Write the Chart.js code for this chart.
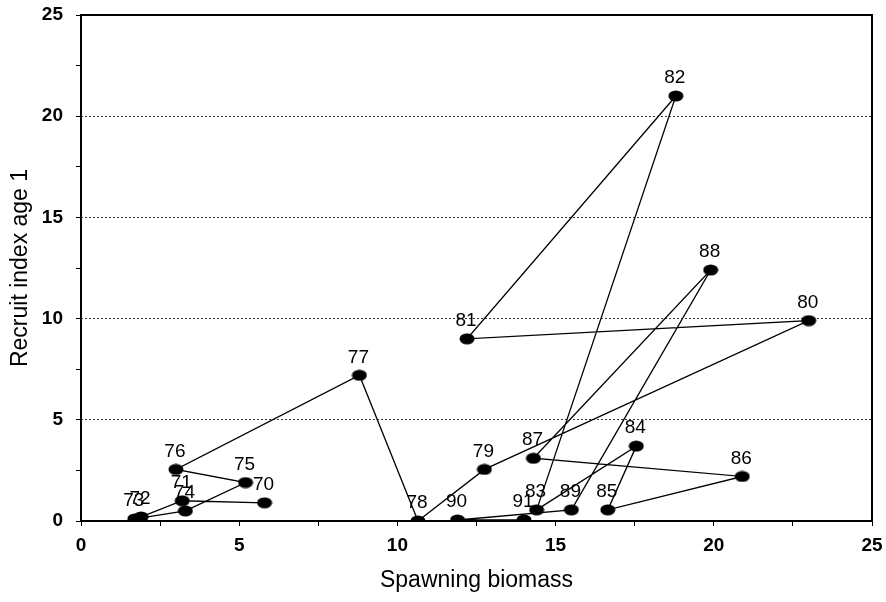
<!DOCTYPE html>
<html>
<head>
<meta charset="utf-8">
<script src="https://cdn.jsdelivr.net/npm/chart.js@4/dist/chart.umd.min.js"></script>
<style>
  html, body { margin: 0; padding: 0; background: #fff; }
  #wrap { position: relative; width: 886px; height: 602px; }
</style>
</head>
<body>
<div id="wrap"><canvas id="c"></canvas></div>
<script>
// years, in the order the path joins them
const years = ['70','71','72','73','74','75','76','77','78','79','80','81','82','83','84','85','86','87','88','89','90','91'];
const biomass = [5.8, 3.2, 1.9, 1.7, 3.3, 5.2, 3.0, 8.8, 10.65, 12.75, 23.0, 12.2, 18.8, 14.4, 17.55, 16.65, 20.9, 14.3, 19.9, 15.5, 11.9, 14.0];
const recruits = [0.9, 1.0, 0.2, 0.1, 0.5, 1.9, 2.55, 7.2, 0.0, 2.55, 9.9, 9.0, 21.0, 0.55, 3.7, 0.55, 2.2, 3.1, 12.4, 0.55, 0.05, 0.05];
const axisTicks = [0, 5, 10, 15, 20, 25];
const tickSteps = [0, 2.5, 5, 7.5, 10, 12.5, 15, 17.5, 20, 22.5, 25];

// oval black marker
const dot = document.createElement('canvas');
dot.width = 16; dot.height = 12;
const dctx = dot.getContext('2d');
dctx.fillStyle = '#000';
dctx.beginPath();
dctx.ellipse(8, 6, 7.5, 5.5, 0, 0, Math.PI * 2);
dctx.fill();

const yearLabels = {
  id: 'yearLabels',
  afterDatasetsDraw(chart) {
    const ctx = chart.ctx;
    const meta = chart.getDatasetMeta(0);
    ctx.save();
    ctx.font = '19px "Liberation Sans", Arial, sans-serif';
    ctx.fillStyle = '#000';
    ctx.textAlign = 'center';
    ctx.textBaseline = 'middle';
    meta.data.forEach((pt, i) => {
      ctx.fillText(years[i], pt.x - 1, pt.y - 18);
    });
    ctx.restore();
  }
};

const frame = {
  id: 'frame',
  afterDraw(chart) {
    const a = chart.chartArea, ctx = chart.ctx;
    ctx.save();
    ctx.strokeStyle = '#000';
    ctx.lineWidth = 2;
    ctx.strokeRect(a.left, a.top, a.right - a.left, a.bottom - a.top);
    ctx.restore();
  }
};

const isMajor = v => Math.abs(v % 5) < 1e-6;
const tickFont = { family: '"Liberation Sans", Arial, sans-serif', size: 19, weight: 'bold' };
const titleFont = { family: '"Liberation Sans", Arial, sans-serif', size: 23 };

new Chart(document.getElementById('c'), {
  type: 'scatter',
  data: {
    datasets: [{
      data: biomass.map((x, i) => ({ x, y: recruits[i] })),
      showLine: true,
      borderColor: '#000',
      borderWidth: 1.3,
      backgroundColor: '#000',
      pointStyle: dot,
      tension: 0
    }]
  },
  options: {
    responsive: true,
    maintainAspectRatio: false,
    animation: false,
    layout: { padding: { left: 0, right: 14, top: 15, bottom: 0 } },
    plugins: { legend: { display: false }, tooltip: { enabled: false } },
    scales: {
      x: {
        type: 'linear', min: 0, max: 25,
        afterBuildTicks: s => { s.ticks = tickSteps.map(v => ({ value: v })); },
        afterFit: s => { s.height = 81; s.paddingLeft = 0; s.paddingRight = 0; },
        ticks: { color: '#000', font: tickFont, padding: 8, maxRotation: 0,
          callback: v => axisTicks.includes(v) ? v : '' },
        grid: { drawOnChartArea: false, color: '#000', tickLength: 5, tickColor: '#000' },
        border: { display: false },
        title: { display: true, text: 'Spawning biomass', color: '#000', font: titleFont, padding: { top: 0, bottom: 8 } }
      },
      y: {
        type: 'linear', min: 0, max: 25,
        afterBuildTicks: s => { s.ticks = tickSteps.map(v => ({ value: v })); },
        afterFit: s => { s.width = 81; s.paddingTop = 0; s.paddingBottom = 0; },
        ticks: { color: '#000', font: tickFont, padding: 13,
          callback: v => axisTicks.includes(v) ? v : '' },
        grid: {
          color: c => (c.tick && isMajor(c.tick.value) && c.tick.value > 0 && c.tick.value < 25) ? '#333' : 'rgba(0,0,0,0)',
          lineWidth: 1,
          tickColor: '#000',
          tickLength: 5
        },
        border: { display: false, dash: [2, 2] },
        title: { display: true, text: 'Recruit index age 1', color: '#000', font: titleFont, padding: { top: 7, bottom: 0 } }
      }
    }
  },
  plugins: [frame, yearLabels]
});
</script>
</body>
</html>
